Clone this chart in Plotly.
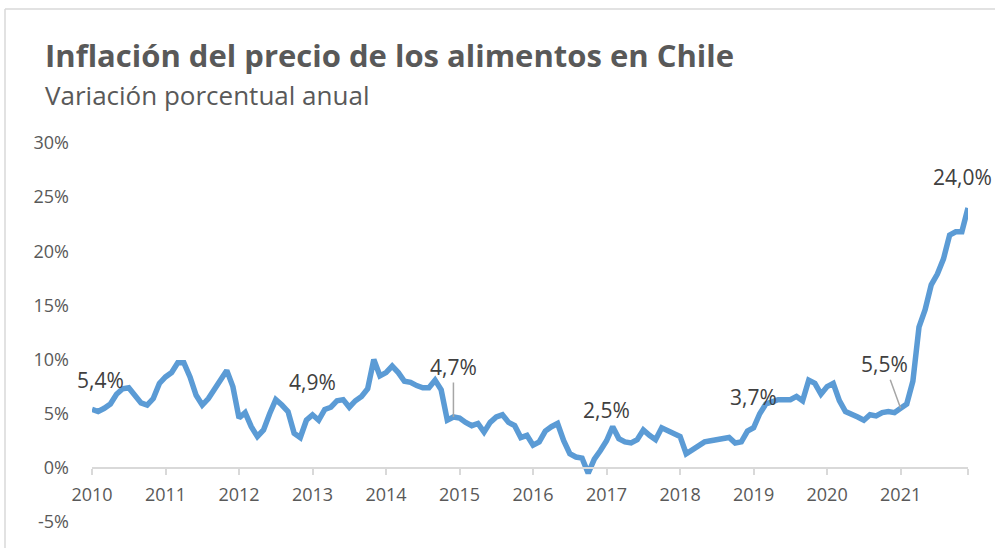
import plotly.graph_objects as go

years = [str(y) for y in range(2010, 2022)]
values_by_year = {
    "2010": [5.4, 5.2, 5.5, 5.9, 6.8, 7.3, 7.4, 6.7, 6.0, 5.8, 6.4, 7.8],
    "2011": [8.4, 8.8, 9.7, 9.7, 8.4, 6.7, 5.8, 6.4, 7.2, 8.1, 9.0, 7.5],
    "2012": [4.6, 5.1, 3.8, 2.9, 3.5, 5.0, 6.3, 5.8, 5.2, 3.2, 2.8, 4.4],
    "2013": [4.9, 4.4, 5.4, 5.6, 6.2, 6.3, 5.6, 6.2, 6.6, 7.3, 10.0, 8.5],
    "2014": [8.8, 9.4, 8.8, 8.0, 7.9, 7.6, 7.4, 7.4, 8.1, 7.2, 4.4, 4.7],
    "2015": [4.6, 4.2, 3.9, 4.1, 3.3, 4.2, 4.7, 4.9, 4.2, 3.9, 2.8, 3.0],
    "2016": [2.1, 2.4, 3.4, 3.8, 4.1, 2.5, 1.3, 1.0, 0.9, -0.5, 0.8, 1.6],
    "2017": [2.5, 3.8, 2.7, 2.4, 2.3, 2.6, 3.5, 3.0, 2.6, 3.7, 3.4, 3.2],
    "2018": [2.9, 1.3, 1.7, 2.1, 2.4, 2.5, 2.6, 2.6, 2.8, 2.3, 2.4, 3.4],
    "2019": [3.7, 5.0, 5.9, 6.1, 6.3, 6.3, 6.3, 6.6, 6.2, 8.1, 7.8, 6.8],
    "2020": [7.5, 7.8, 6.2, 5.2, 5.0, 4.7, 4.4, 4.9, 4.8, 5.1, 5.2, 5.1],
    "2021": [5.5, 5.9, 8.0, 13.0, 14.6, 16.9, 17.9, 19.3, 21.5, 21.8, 21.8, 24.0],
}
values = [v for y in years for v in values_by_year[y]]
x_idx = list(range(len(values)))

# indices of labelled points (Jan 2010, Jan 2013, Dec 2014, Jan 2017, Jan 2019, Jan 2021, Dec 2021)
label_points = [0, 36, 59, 84, 108, 132, 143]

y_ticks = [-5, 0, 5, 10, 15, 20, 25, 30]

fig = go.Figure()
fig.add_trace(go.Scatter(
    x=x_idx, y=values, mode="lines",
    line=dict(color="#5B9BD5", width=5.5),
    hoverinfo="skip", showlegend=False,
))

def fmt(v):
    return f"{v:.1f}".replace(".", ",") + "%"

label_font = dict(family="Open Sans, sans-serif", size=21, color="#404040")
offsets = {
    0: dict(showarrow=False, xshift=8, yshift=29),
    36: dict(showarrow=False, xshift=0, yshift=33),
    59: dict(showarrow=True, ax=0, ay=-50),
    84: dict(showarrow=False, xshift=0, yshift=31),
    108: dict(showarrow=False, xshift=0, yshift=31),
    132: dict(showarrow=True, ax=-16, ay=-44),
    143: dict(showarrow=False, xshift=-6, yshift=31),
}
for i in label_points:
    o = offsets[i]
    kw = dict(x=x_idx[i], y=values[i], xref="x", yref="y", text=fmt(values[i]),
              font=label_font)
    if o["showarrow"]:
        kw.update(showarrow=True, ax=o["ax"], ay=o["ay"], arrowhead=0,
                  arrowwidth=1.5, arrowcolor="#A6A6A6", standoff=0)
    else:
        kw.update(showarrow=False, xshift=o["xshift"], yshift=o["yshift"])
    fig.add_annotation(**kw)

L, R, T, B = 92, 27, 143, 26
W, H = 995, 548
pw, ph = W - L - R, H - T - B
def px_x(px):
    return (px - L) / pw
def px_y(py):
    return (H - B - py) / ph

fig.add_annotation(text="<b>Inflación del precio de los alimentos en Chile</b>",
                   xref="paper", yref="paper", x=px_x(43), y=px_y(55),
                   xanchor="left", yanchor="middle", showarrow=False,
                   font=dict(family="Open Sans, sans-serif", size=31, color="#595959"))
fig.add_annotation(text="Variación porcentual anual",
                   xref="paper", yref="paper", x=px_x(43), y=px_y(95),
                   xanchor="left", yanchor="middle", showarrow=False,
                   font=dict(family="Open Sans, sans-serif", size=26, color="#595959"))

# chart frame (top and left edges)
fig.add_shape(type="line", xref="paper", yref="paper",
              x0=px_x(5), x1=px_x(1000), y0=px_y(9), y1=px_y(9),
              line=dict(color="#D9D9D9", width=1.5))
fig.add_shape(type="line", xref="paper", yref="paper",
              x0=px_x(5), x1=px_x(5), y0=px_y(9), y1=px_y(560),
              line=dict(color="#D9D9D9", width=1.5))

fig.update_layout(
    width=W, height=H,
    margin=dict(l=L, r=R, t=T, b=B),
    paper_bgcolor="white", plot_bgcolor="white",
    font=dict(family="Open Sans, sans-serif", color="#595959"),
    xaxis=dict(
        range=[0, len(values) - 1],
        tickvals=[12 * k for k in range(len(years))] + [len(values) - 1],
        ticktext=years + [""],
        showgrid=False, zeroline=False,
        showline=True, linecolor="#D9D9D9", linewidth=1.5,
        ticks="outside", ticklen=6, tickcolor="#D9D9D9", tickwidth=1.5,
        tickfont=dict(size=18, color="#595959"),
        anchor="free", position=5 / 35,
        ticklabelstandoff=5,
    ),
    yaxis=dict(
        range=[-5, 30], tickvals=y_ticks,
        ticktext=[f"{t}%" for t in y_ticks],
        showgrid=False, zeroline=False, showline=False,
        tickfont=dict(size=18, color="#595959"),
        ticklabelstandoff=22,
    ),
)

fig.write_html("out.html", config={"displayModeBar": False},
               post_script="document.body.style.margin='0';document.body.style.overflow='hidden';")
